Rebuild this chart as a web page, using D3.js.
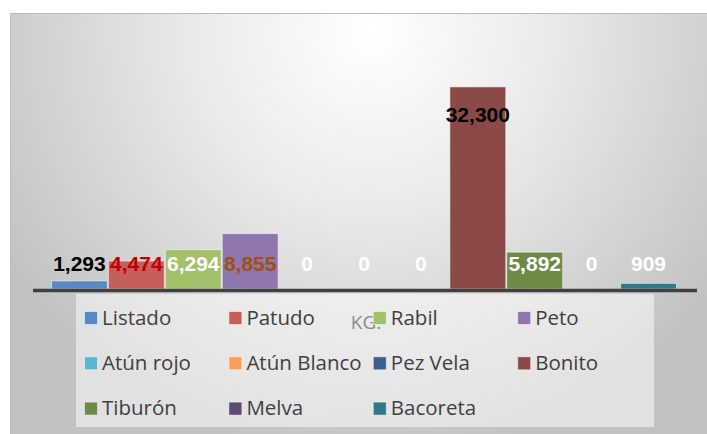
<!DOCTYPE html>
<html>
<head>
<meta charset="utf-8">
<script src="https://cdn.jsdelivr.net/npm/d3@7"></script>
<style>
  body { margin: 0; background: #fff; }
</style>
</head>
<body>
<div id="chart"></div>
<script>
// catch by species, kg
const species = ["Listado", "Patudo", "Rabil", "Peto", "Atún rojo", "Atún Blanco", "Pez Vela", "Bonito", "Tiburón", "Melva", "Bacoreta"];
const kilos = [1293, 4474, 6294, 8855, 0, 0, 0, 32300, 5892, 0, 909];
const colors = ["#5a87c5", "#c65f5c", "#a3c06b", "#8f76ae", "#5ab7cf", "#f9a05a", "#3e5f8a", "#8b4947", "#6e8a47", "#5d4a75", "#31788a"];
const labelColors = ["#000000", "#c00000", "#ffffff", "#a0500f", "#ffffff", "#ffffff", "#ffffff", "#000000", "#ffffff", "#ffffff", "#ffffff"];
const axisTitle = "KG.";

let width = 707, height = 434;
let svg = d3.select("#chart").append("svg")
    .attr("width", width)
    .attr("height", height);

// background gradient
let defs = svg.append("defs");
let grad = defs.append("radialGradient")
    .attr("id", "bg")
    .attr("gradientUnits", "userSpaceOnUse")
    .attr("cx", 370).attr("cy", 30).attr("r", 430);
grad.append("stop").attr("offset", 0).attr("stop-color", "#ffffff");
grad.append("stop").attr("offset", 0.4).attr("stop-color", "#ebebeb");
grad.append("stop").attr("offset", 1).attr("stop-color", "#c2c2c2");

svg.append("rect")
    .attr("x", 10.5).attr("y", 13.5)
    .attr("width", width).attr("height", height)
    .attr("fill", "url(#bg)")
    .attr("stroke", "#bcbcbc");

// scales
let x = d3.scaleBand()
    .domain(species)
    .range([51, 677])
    .paddingInner(0);

let y = d3.scaleLinear()
    .domain([0, 35000])
    .range([289, 70]);

// bars
svg.selectAll(".bar")
    .data(species)
    .enter().append("rect")
    .attr("class", "bar")
    .attr("x", d => x(d) + 0.5)
    .attr("y", (d, i) => y(kilos[i]))
    .attr("width", x.bandwidth() - 1)
    .attr("height", (d, i) => y(0) - y(kilos[i]))
    .attr("fill", (d, i) => colors[i])
    .attr("stroke", "rgba(255,255,255,0.55)")
    .attr("stroke-width", 1);

// category axis line
svg.append("line")
    .attr("x1", 33).attr("x2", 697)
    .attr("y1", y(0) + 1.5).attr("y2", y(0) + 1.5)
    .attr("stroke", "#404040")
    .attr("stroke-width", 3.5);

// data labels
svg.selectAll(".lbl")
    .data(species)
    .enter().append("text")
    .attr("class", "lbl")
    .attr("x", d => x(d) + x.bandwidth() / 2)
    .attr("y", (d, i) => kilos[i] > 20000 ? y(kilos[i]) + 35 : y(0) - 18)
    .attr("text-anchor", "middle")
    .attr("font-family", "'Liberation Sans', Arial, sans-serif")
    .attr("font-weight", "bold")
    .attr("font-size", 21)
    .attr("fill", (d, i) => labelColors[i])
    .text((d, i) => d3.format(",")(kilos[i]));

// legend box
svg.append("rect")
    .attr("x", 76).attr("y", 294)
    .attr("width", 578).attr("height", 133)
    .attr("fill", "#ffffff")
    .attr("fill-opacity", 0.5);

// axis title sits under the legend
svg.append("text")
    .attr("x", 366).attr("y", 329)
    .attr("text-anchor", "middle")
    .attr("font-family", "'Open Sans', sans-serif")
    .attr("font-size", 19)
    .attr("fill", "#8a8a8a")
    .text(axisTitle);

let legend = svg.selectAll(".leg")
    .data(species)
    .enter().append("g")
    .attr("class", "leg")
    .attr("transform", (d, i) => `translate(${84 + (i % 4) * 144.4},${324.5 + Math.floor(i / 4) * 45.3})`);

legend.append("rect")
    .attr("x", 0.5).attr("y", -13)
    .attr("width", 13).attr("height", 13)
    .attr("fill", (d, i) => colors[i])
    .attr("stroke", "rgba(255,255,255,0.5)")
    .attr("stroke-width", 1);

legend.append("text")
    .attr("x", 18)
    .attr("y", 0)
    .attr("font-family", "'Open Sans', sans-serif")
    .attr("font-size", 20.5)
    .attr("fill", "#404040")
    .text(d => d);
</script>
</body>
</html>
